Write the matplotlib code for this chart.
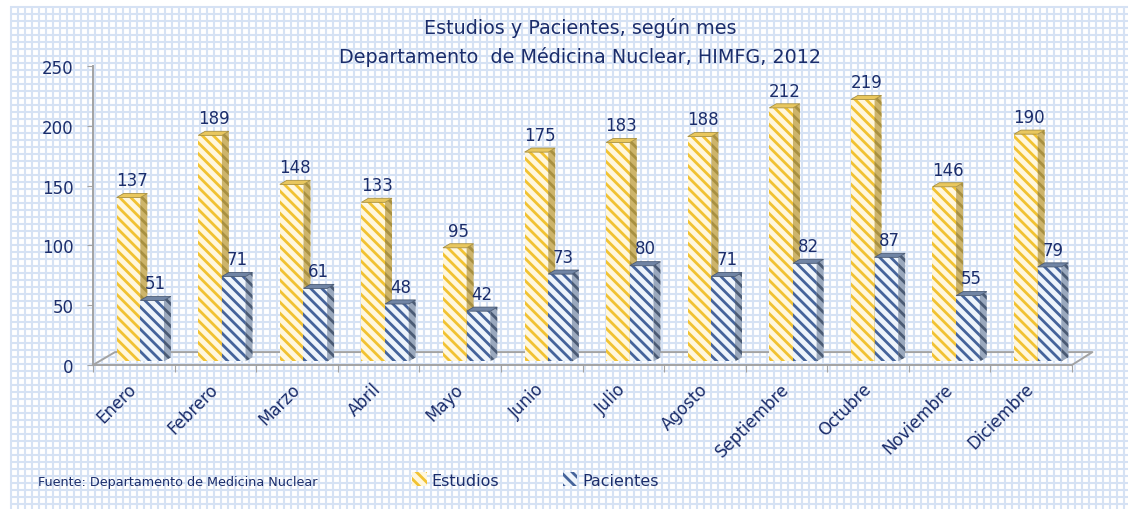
import numpy as np
import matplotlib
matplotlib.use('Agg')
import matplotlib.pyplot as plt
from matplotlib.patches import Polygon, Patch

meses = ['Enero', 'Febrero', 'Marzo', 'Abril', 'Mayo', 'Junio', 'Julio',
         'Agosto', 'Septiembre', 'Octubre', 'Noviembre', 'Diciembre']
estudios = [137, 189, 148, 133, 95, 175, 183, 188, 212, 219, 146, 190]
pacientes = [51, 71, 61, 48, 42, 73, 80, 71, 82, 87, 55, 79]

navy = '#1b2d6b'
gris = '#a3a3a3'
plt.rcParams['font.family'] = 'DejaVu Sans'
plt.rcParams['hatch.linewidth'] = 2.0
rayas = '\\\\\\'

fig = plt.figure(figsize=(11.28, 5.1), dpi=100)

# fondo tipo papel cuadriculado
bg = fig.add_axes([0, 0, 1, 1], zorder=-5)
bg.set_xlim(0, 1128)
bg.set_ylim(510, 0)
bg.axis('off')
bg.vlines(np.arange(11, 1128, 7), 7, 510, color='#d6e2f4', lw=1.5)
bg.hlines(np.arange(8, 510, 7), 10, 1128, color='#d6e2f4', lw=1.5)

ax = fig.add_axes([93/1128, 144/510, 979/1128, 299/510])
ax.patch.set_alpha(0)
ax.set_xlim(-0.5, 11.5)
ax.set_ylim(0, 250)

x = np.arange(len(meses))
w = 0.29
base = 3
ddx, ddy = 0.085, 3.4


def bar3d(xc, vals, front, hatchc, side, sidehatch, top, z):
    bars = ax.bar(xc, vals, w, bottom=base, color=front, edgecolor=hatchc,
                  hatch=rayas, linewidth=0, zorder=z)
    for b, v in zip(bars, vals):
        x0 = b.get_x(); x1 = x0 + b.get_width()
        y0 = b.get_y(); y1 = y0 + b.get_height()
        ax.add_patch(Polygon([(x1, y0), (x1+ddx, y0+ddy), (x1+ddx, y1+ddy), (x1, y1)],
                             facecolor=side, edgecolor=sidehatch, hatch=rayas, lw=0, zorder=z))
        ax.add_patch(Polygon([(x0, y1), (x0+ddx, y1+ddy), (x1+ddx, y1+ddy), (x1, y1)],
                             facecolor=top, edgecolor=sidehatch, lw=0.6, zorder=z))
        ax.annotate(str(v), (x0 + w/2 + ddx/2, y1 + ddy), xytext=(0, 3),
                    textcoords='offset points', ha='center', va='bottom',
                    fontsize=12, color=navy, zorder=6)


bar3d(x - 0.065, estudios, '#fff7de', '#f1c232', '#cdb46a', '#a89040', '#e9c75e', 3)
bar3d(x + 0.225, pacientes, '#eef4fb', '#45639a', '#9aa8bd', '#4a5a74', '#7084a4', 4)

# piso 3D
ax.plot([-0.5, -0.5 + 0.27, 11.5 + 0.25, 11.5], [0, 10.8, 10.8, 0],
        color=gris, lw=1.4, clip_on=False, zorder=1)

for s in ['top', 'right']:
    ax.spines[s].set_visible(False)
for s in ['left', 'bottom']:
    ax.spines[s].set_color(gris)
    ax.spines[s].set_linewidth(1.4)

ax.set_yticks([0, 50, 100, 150, 200, 250])
ax.tick_params(axis='y', length=4, color=gris, labelsize=12, labelcolor=navy, pad=10)
ax.set_xticks(np.arange(-0.5, 12, 1))
ax.set_xticklabels([])
ax.tick_params(axis='x', which='major', length=5, color=gris)
ax.set_xticks(x, meses, minor=True)
ax.tick_params(axis='x', which='minor', length=0, pad=15, labelsize=12, labelcolor=navy)
plt.setp(ax.get_xticklabels(minor=True), rotation=45, ha='right', va='center',
         rotation_mode='anchor')

fig.text(0.514, 1 - 28/510, 'Estudios y Pacientes, según mes', ha='center', va='center',
         fontsize=13.8, color=navy)
fig.text(0.514, 1 - 57/510, 'Departamento  de Médicina Nuclear, HIMFG, 2012', ha='center',
         va='center', fontsize=13.8, color=navy)

fig.text(38/1128, 1 - 483/510, 'Fuente: Departamento de Medicina Nuclear', fontsize=9.2,
         color=navy, va='center')

handles = [Patch(facecolor='#fff7de', edgecolor='#f1c232', hatch=rayas, lw=0),
           Patch(facecolor='#eef4fb', edgecolor='#45639a', hatch=rayas, lw=0)]
fig.legend(handles, ['Estudios', 'Pacientes'], loc='center left',
           bbox_to_anchor=(398/1128, 1 - 481/510), ncol=2, frameon=False, fontsize=11.5,
           handlelength=0.9, handleheight=0.9, handletextpad=0.3, columnspacing=4.0,
           labelcolor=navy)

fig.savefig('out.png', dpi=100)
